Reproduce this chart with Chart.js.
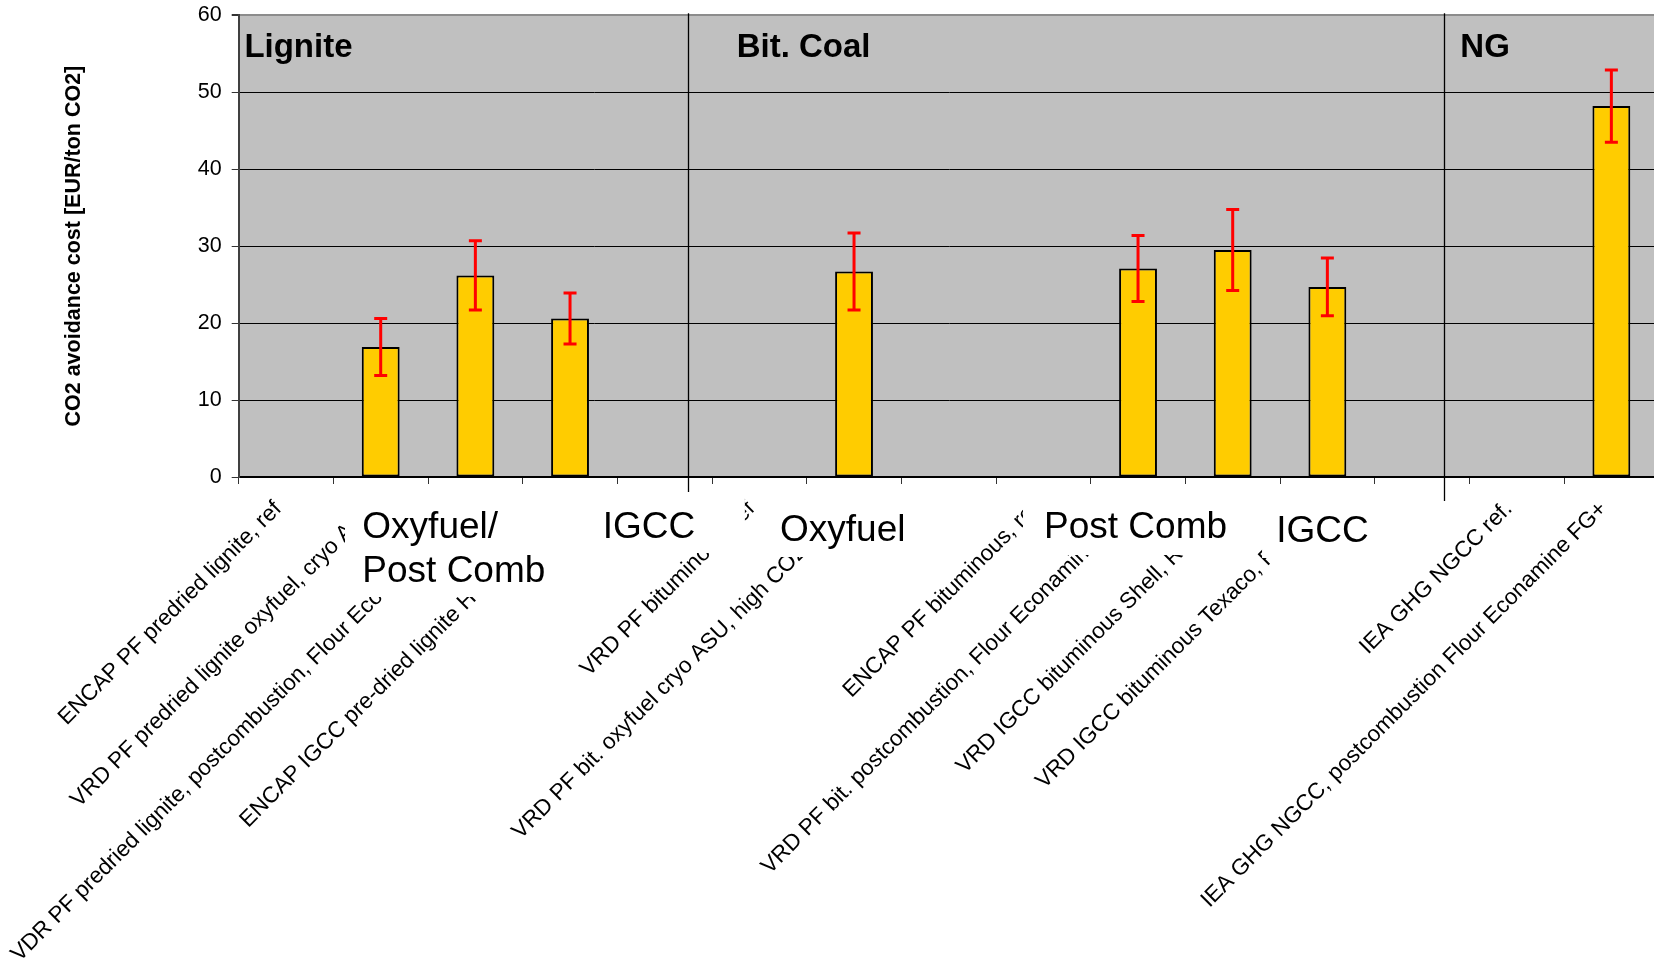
<!DOCTYPE html>
<html><head><meta charset="utf-8">
<script src="https://cdn.jsdelivr.net/npm/chart.js@4.4.1/dist/chart.umd.min.js"></script>
<style>html,body{margin:0;padding:0;overflow:hidden;background:#fff}#wrap{width:1664px;height:960px;position:relative}</style>
</head><body><div id="wrap"><canvas id="c"></canvas></div>
<script>
// ---- data ----
const categories = [
  'ENCAP PF predried lignite, ref',
  'VRD PF predried lignite oxyfuel, cryo ASU',
  'VDR PF predried lignite, postcombustion, Flour Econamine FG+',
  'ENCAP IGCC pre-dried lignite HTW, Rectisol',
  '',
  'VRD PF bituminous, ref',
  'VRD PF bit. oxyfuel cryo ASU, high CO2 purity',
  '',
  'ENCAP PF bituminous, ref',
  'VRD PF bit. postcombustion, Flour Econamine FG+',
  'VRD IGCC bituminous Shell, Rectisol',
  'VRD IGCC bituminous Texaco, Rectisol',
  '',
  'IEA GHG NGCC ref.',
  'IEA GHG NGCC, postcombustion Flour Econamine FG+'
];
const costValues = [null, 16.9, 26.2, 20.6, null, null, 26.7, null, null, 27.1, 29.5, 24.7, null, null, 48.2];
const costErrors = [null, 3.7, 4.5, 3.3, null, null, 5.0, null, null, 4.3, 5.25, 3.75, null, null, 4.7];
const yTicks = [0, 10, 20, 30, 40, 50, 60];
const fuelGroups = ['Lignite', 'Bit. Coal', 'NG'];
const techNotes = [['Oxyfuel/', 'Post Comb'], ['IGCC'], ['Oxyfuel'], ['Post Comb'], ['IGCC']];
const yTitle = 'CO2 avoidance cost [EUR/ton CO2]';

// ---- layout / style (annotation placement in category units and pixel offsets) ----
const FONT = '"Liberation Sans", Arial, sans-serif';
const groupX = [-0.44, 4.76, 12.405];
const groupBaselineValue = 54.58;
const dividerX = [4.243, 12.235];
const noteLayout = [
  {x0: 0.623, x1: 3.158, y0: 15, y1: 120, tx: 0.806, base: [60.7, 104.7]},
  {x0: 3.211, x1: 4.847, y0: 15, y1: 76,  tx: 3.345, base: [60.7]},
  {x0: 4.953, x1: 6.75,  y0: 15, y1: 80,  tx: 5.218, base: [63.7]},
  {x0: 7.785, x1: 10.077,y0: 15, y1: 78,  tx: 8.007, base: [60.7]},
  {x0: 10.31, x1: 11.61, y0: 15, y1: 81,  tx: 10.46, base: [64.7]}
];

const bgPlugin = {
  id: 'bg',
  beforeDraw(chart) {
    const {ctx, chartArea: a} = chart;
    ctx.save();
    ctx.fillStyle = '#C0C0C0';
    ctx.fillRect(a.left, a.top, a.right - a.left, a.bottom - a.top);
    ctx.restore();
  }
};

const errPlugin = {
  id: 'err',
  afterDatasetsDraw(chart) {
    const {ctx, scales: {x, y}, chartArea: a} = chart;
    const meta = chart.getDatasetMeta(0);
    ctx.save();
    // dividers
    ctx.strokeStyle = '#000';
    ctx.lineWidth = 1.3;
    dividerX.forEach(d => {
      const px = Math.round(x.getPixelForValue(d)) + 0.5;
      ctx.beginPath();
      ctx.moveTo(px, a.top - 2);
      ctx.lineTo(px, a.bottom + 24);
      ctx.stroke();
    });
    // error bars
    ctx.strokeStyle = '#FF0000';
    ctx.lineWidth = 3;
    costValues.forEach((v, i) => {
      if (v === null) return;
      const e = costErrors[i];
      const cx = meta.data[i].x;
      const yt = y.getPixelForValue(v + e);
      const yb = y.getPixelForValue(v - e);
      ctx.beginPath();
      ctx.moveTo(cx, yt); ctx.lineTo(cx, yb);
      ctx.moveTo(cx - 6.5, yt); ctx.lineTo(cx + 6.5, yt);
      ctx.moveTo(cx - 6.5, yb); ctx.lineTo(cx + 6.5, yb);
      ctx.stroke();
    });
    ctx.restore();
  },
  afterDraw(chart) {
    const {ctx, scales: {x, y}, chartArea: a} = chart;
    ctx.save();
    // white note boxes with text
    noteLayout.forEach((n, k) => {
      const l = x.getPixelForValue(n.x0), r = x.getPixelForValue(n.x1);
      ctx.fillStyle = '#fff';
      ctx.fillRect(l, a.bottom + n.y0, r - l, n.y1 - n.y0);
      ctx.fillStyle = '#000';
      ctx.font = '37px ' + FONT;
      ctx.textAlign = 'left';
      ctx.textBaseline = 'alphabetic';
      techNotes[k].forEach((t, j) => {
        ctx.fillText(t, x.getPixelForValue(n.tx), a.bottom + n.base[j]);
      });
    });
    // fuel group labels
    ctx.font = 'bold 33px ' + FONT;
    ctx.fillStyle = '#000';
    ctx.textAlign = 'left';
    ctx.textBaseline = 'alphabetic';
    fuelGroups.forEach((g, i) => {
      ctx.fillText(g, x.getPixelForValue(groupX[i]), y.getPixelForValue(groupBaselineValue));
    });
    ctx.restore();
  }
};

new Chart(document.getElementById('c'), {
  type: 'bar',
  data: {
    labels: categories,
    datasets: [{
      data: costValues,
      backgroundColor: '#FFCC00',
      borderColor: '#000',
      borderWidth: 2,
      borderSkipped: false,
      categoryPercentage: 1,
      barPercentage: 0.4
    }]
  },
  options: {
    responsive: true,
    maintainAspectRatio: false,
    animation: false,
    devicePixelRatio: 1,
    layout: {padding: {top: 15.3, right: 5.3, bottom: 0, left: 0}},
    plugins: {legend: {display: false}, tooltip: {enabled: false}},
    scales: {
      x: {
        offset: true,
        afterFit(s) { s.height = 483; s.paddingRight = 0; },
        grid: {display: true, drawOnChartArea: false, drawTicks: true, tickLength: 7, offset: true, color: '#333', lineWidth: 1},
        border: {display: true, color: '#000', width: 2},
        ticks: {
          autoSkip: false, maxRotation: 45, minRotation: 45, padding: 12, labelOffset: -8,
          color: '#000', font: {family: FONT, size: 22.5}
        }
      },
      y: {
        min: 0, max: 60,
        afterFit(s) { s.width = 238.7; s.paddingTop = 0; s.paddingBottom = 0; },
        afterBuildTicks(s) { s.ticks = yTicks.map(v => ({value: v})); },
        grid: {
          color: c => (c.tick && c.tick.value === 60) ? '#8C8C8C' : '#000',
          lineWidth: c => (c.tick && c.tick.value === 60) ? 2 : 1,
          tickColor: '#333', tickLength: 7, drawTicks: true
        },
        border: {display: true, color: '#404040', width: 2},
        ticks: {padding: 10, color: '#000', font: {family: FONT, size: 21.5}},
        title: {
          display: true, text: yTitle, color: '#000',
          font: {family: FONT, size: 21.5, weight: 'bold'},
          padding: {top: 61.1, bottom: 0}
        }
      }
    }
  },
  plugins: [bgPlugin, errPlugin]
});
</script>
</body></html>
